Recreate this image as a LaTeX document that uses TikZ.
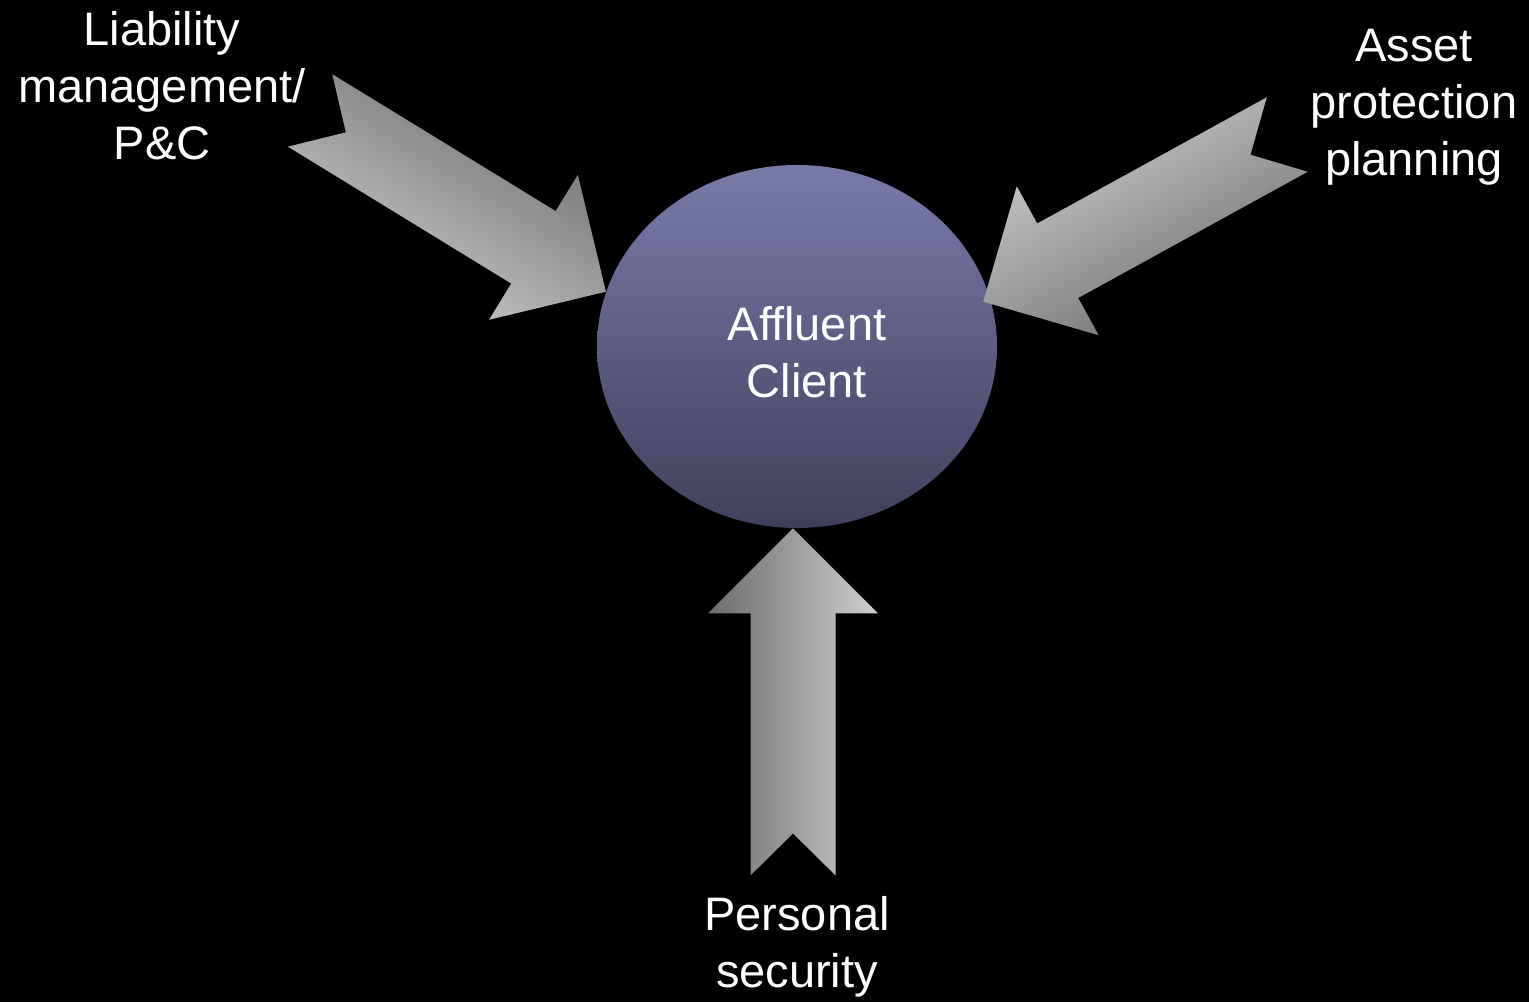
\documentclass[tikz,border=0pt]{standalone}
\usepackage{fontspec}
\setmainfont{Liberation Sans}[Ligatures=NoCommon]
\usetikzlibrary{shapes.geometric}

\definecolor{clienttop}{HTML}{7A7AA9}
\definecolor{clientbot}{HTML}{3F3F5D}
\definecolor{arrowdark}{HTML}{6C6C6C}
\definecolor{arrowlight}{HTML}{CFCFCF}

\tikzset{
  client/.style={ellipse, minimum width=200pt, minimum height=181.5pt,
                 inner sep=0pt, top color=clienttop, bottom color=clientbot},
  lbl/.style={text=white, align=center, font=\fontsize{23.5}{28.5}\selectfont},
  notch/.style={top color=arrowdark, bottom color=arrowlight}
}

% fat arrow with a notched tail, #1 = tip, #2 = direction
\newcommand{\notcharrow}[2]{%
  \shade[notch, shading angle=#2, shift={(#1)}, rotate=#2]
    (-\al,\sw) -- (-\hl,\sw) -- (-\hl,\hw) -- (0,0) -- (-\hl,-\hw)
    -- (-\hl,-\sw) -- (-\al,-\sw) -- ({-\al+\nd},0) -- cycle;}

\begin{document}
\begin{tikzpicture}[x=0.5pt, y=0.5pt]
\def\al{347} %arrow length, tail to tip
\def\hl{85} %length of the head
\def\hw{85} %half width of the head
\def\sw{42.5} %half width of the shaft
\def\nd{42} %depth of the notch in the tail

\fill[black] (0,0) rectangle (1529,1002); %background
\useasboundingbox (0,0) rectangle (1529,1002);

\node[client] (client) at (797,655.5) {};
\node[lbl] (clientlbl) at (807,650) {Affluent\\Client};

\coordinate (tipleft) at (client.164);
\coordinate (tipright) at ([xshift=-4pt]client.13.5);
\coordinate (tipbottom) at ([xshift=-2pt]client.south);

\notcharrow{tipleft}{-31.5}
\notcharrow{tipright}{208.8}
\notcharrow{tipbottom}{90}

\node[lbl] (liability) at (162,916.5) {Liability\\management/\\P\&C};
\node[lbl] (asset) at (1414,894.5) {Asset\\protection\\planning};
\node[lbl] (personal) at (797,55.5) {Personal\\security};

\end{tikzpicture}
\end{document}
